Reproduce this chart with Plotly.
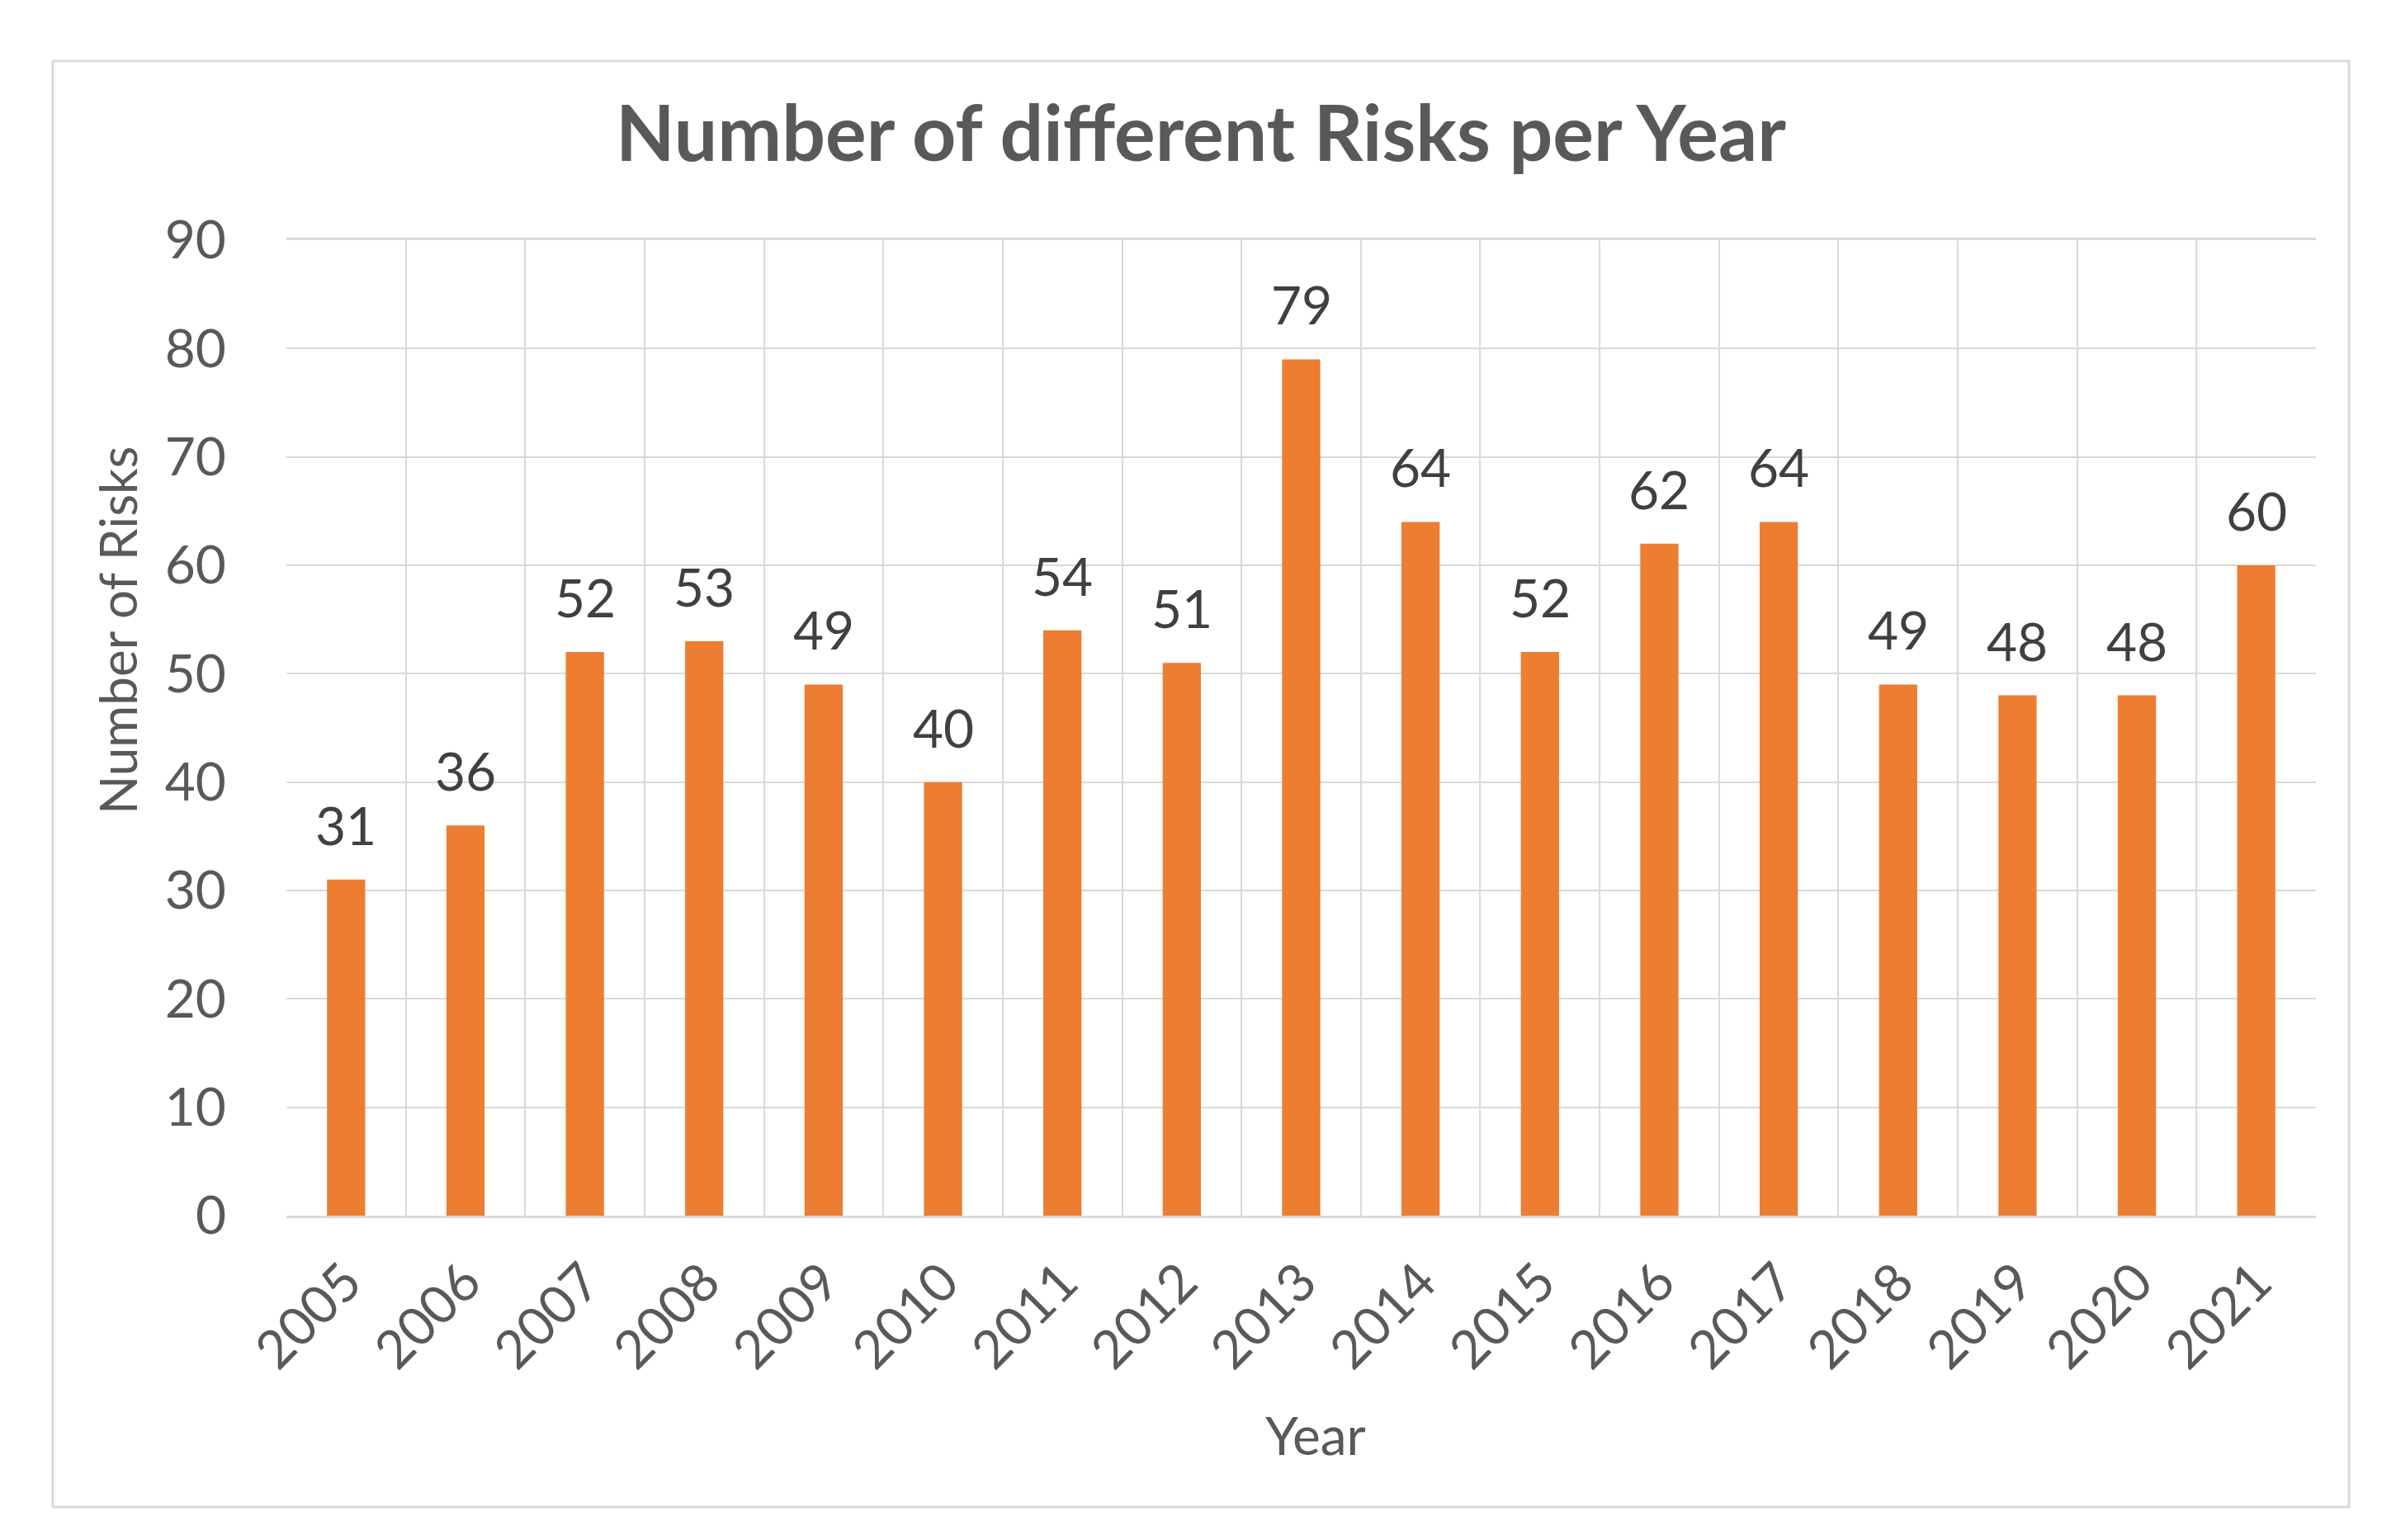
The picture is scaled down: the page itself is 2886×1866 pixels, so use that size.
import plotly.graph_objects as go

years = ["2005", "2006", "2007", "2008", "2009", "2010", "2011", "2012", "2013",
         "2014", "2015", "2016", "2017", "2018", "2019", "2020", "2021"]
risks = [31, 36, 52, 53, 49, 40, 54, 51, 79, 64, 52, 62, 64, 49, 48, 48, 60]
y_ticks = [0, 10, 20, 30, 40, 50, 60, 70, 80, 90]

W, H = 2886, 1866
L, R, T, B = 339, 2798, 283, 1465  # plot area in pixels
pw, ph = R - L, B - T

FONT = "Lato"
GRAY = "#595959"
GRID = "#D9D9D9"
ORANGE = "#ED7D31"


def px_x(x):
    return (x - L) / pw


def px_y(y):
    return (B - y) / ph


fig = go.Figure()
fig.add_trace(go.Bar(
    x=years, y=risks,
    marker=dict(color=ORANGE, line=dict(width=0)),
))

# data labels (x given as category index on the category axis)
for i, v in enumerate(risks):
    fig.add_annotation(x=i, y=v, text=str(v), showarrow=False,
                       xanchor="center", yanchor="bottom", yshift=26,
                       font=dict(family=FONT, size=64, color="#404040"))

# axis titles
fig.add_annotation(xref="paper", yref="paper", x=px_x(134), y=px_y(756),
                   text="Number of Risks", textangle=-90, showarrow=False,
                   xanchor="center", yanchor="middle",
                   font=dict(family=FONT, size=62, color=GRAY))
fig.add_annotation(xref="paper", yref="paper", x=px_x(1586), y=px_y(1730),
                   text="Year", showarrow=False,
                   xanchor="center", yanchor="middle",
                   font=dict(family=FONT, size=64, color=GRAY))

# outer chart border
fig.add_shape(type="rect", xref="paper", yref="paper",
              x0=px_x(56), x1=px_x(2838), y0=px_y(1818), y1=px_y(66),
              line=dict(color=GRID, width=3), layer="below")

fig.update_layout(
    width=W, height=H,
    margin=dict(l=L, r=W - R, t=T, b=H - B),
    paper_bgcolor="white", plot_bgcolor="white",
    bargap=0.68,
    showlegend=False,
    title=dict(text="<b>Number of different Risks per Year</b>",
               x=1447 / W, xanchor="center",
               y=1 - 154 / H, yanchor="middle",
               font=dict(family=FONT, size=93, color=GRAY)),
    font=dict(family=FONT, color=GRAY),
)
fig.update_xaxes(
    type="category", categoryorder="array", categoryarray=years,
    range=[-0.5, len(years) - 0.5],
    tickson="boundaries", showgrid=True, gridcolor=GRID, gridwidth=2,
    showline=True, linecolor=GRID, linewidth=3, mirror=True,
    ticks="", tickangle=-45, tickfont=dict(family=FONT, size=64, color=GRAY),
    ticklabelstandoff=14,
)
fig.update_yaxes(
    range=[0, 90], tickvals=y_ticks, showgrid=True, gridcolor=GRID, gridwidth=2,
    zeroline=False, showline=False, ticks="", ticklabelstandoff=72,
    tickfont=dict(family=FONT, size=64, color=GRAY),
)

fig.write_html("out.html")
